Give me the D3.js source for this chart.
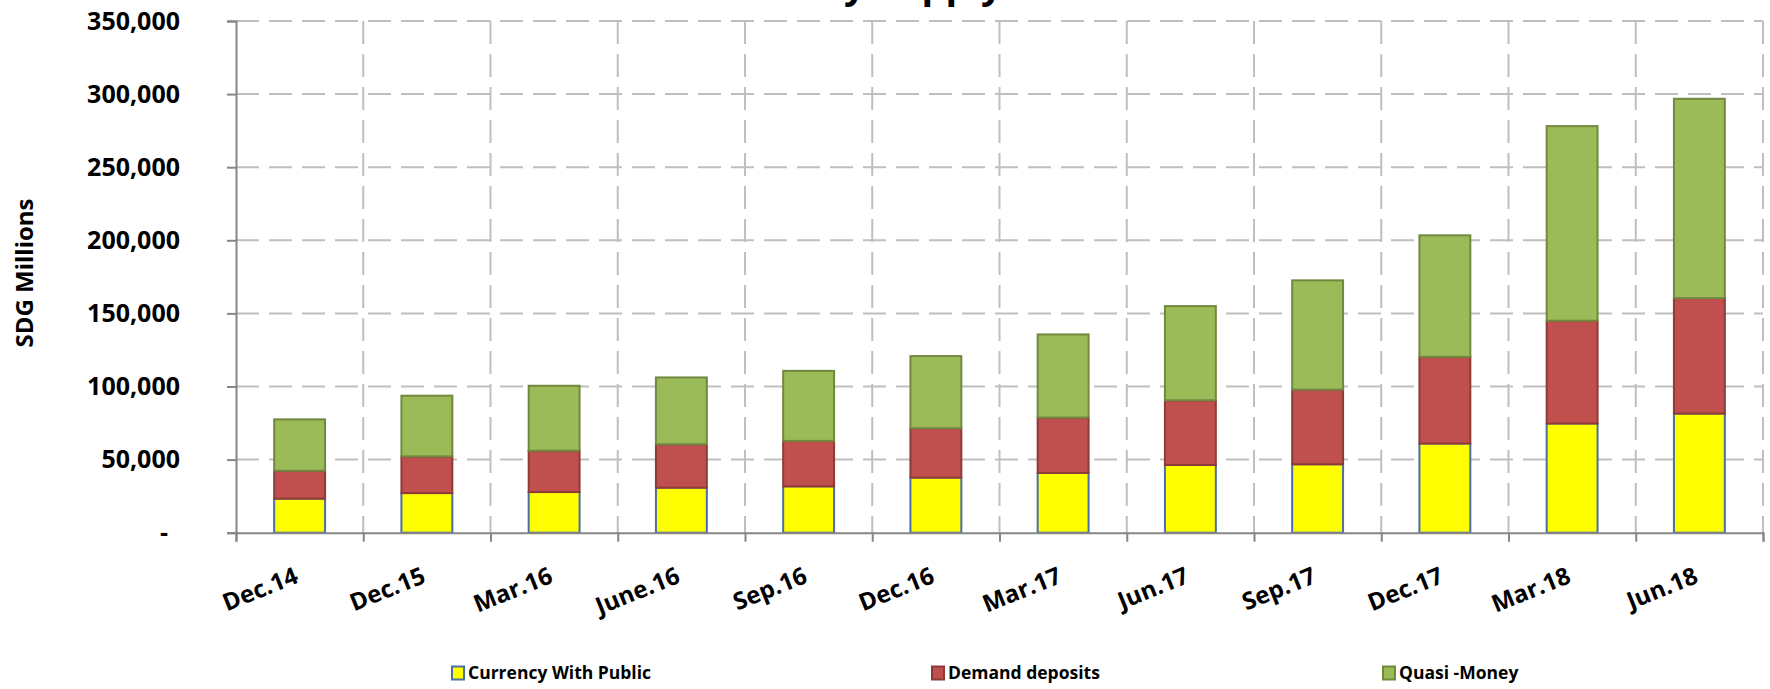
<!DOCTYPE html>
<html>
<head>
<meta charset="utf-8">
<script src="https://cdn.jsdelivr.net/npm/d3@7"></script>
<style>
body{margin:0;background:#fff;}
svg{display:block;font-family:"Open Sans",sans-serif;}
</style>
</head>
<body>
<svg id="svg"></svg>
<script>
var periods = ["Dec.14","Dec.15","Mar.16","June.16","Sep.16","Dec.16","Mar.17","Jun.17","Sep.17","Dec.17","Mar.18","Jun.18"];
// SDG millions
var currency = [23300,27100,27800,30800,31700,37700,40900,46300,46800,61000,74700,81500];
var demand   = [19100,25100,28300,29700,31100,33800,37900,44300,51100,59300,70300,79000];
var quasi    = [35100,41500,44400,45700,47900,49300,56800,64400,74700,83100,133100,136300];
var seriesNames = ["Currency With Public","Demand deposits","Quasi -Money"];
var yTicks = [0,50000,100000,150000,200000,250000,300000,350000];

var width = 1770, height = 689;
// note: "top" is taken by window.top, so plot edges get their own names
var plotLeft = 236, plotRight = 1763, plotTop = 21, plotBottom = 532.7;
var fills = ["#ffff00","#c0504d","#9bbb59"];
var strokes = ["#4a6fa5","#8e3a38","#71893f"];

var svg = d3.select("#svg").attr("width", width).attr("height", height);

var x = d3.scaleBand().domain(periods).range([plotLeft, plotRight]).paddingInner(0.6).paddingOuter(0.3);
var xEdge = d3.scaleLinear().domain([0, periods.length]).range([plotLeft, plotRight]);
var y = d3.scaleLinear().domain([0, 350000]).range([plotBottom, plotTop]);

// title, mostly cut off at the top like the original
svg.append("text").attr("x", 870).attr("y", -2).attr("text-anchor", "middle")
	.style("font-size", "38px").style("font-weight", "bold").text("Money Supply");

// grid
svg.append("g").selectAll("line").data(yTicks.slice(1)).enter().append("line")
	.attr("x1", plotLeft).attr("x2", plotRight).attr("y1", function(d){return y(d);}).attr("y2", function(d){return y(d);})
	.attr("stroke", "#bfbfbf").attr("stroke-width", 2).attr("stroke-dasharray", "23,10");
svg.append("g").selectAll("line").data(d3.range(1, periods.length + 1)).enter().append("line")
	.attr("x1", function(d){return xEdge(d);}).attr("x2", function(d){return xEdge(d);})
	.attr("y1", plotTop).attr("y2", plotBottom)
	.attr("stroke", "#bfbfbf").attr("stroke-width", 2).attr("stroke-dasharray", "23,10");

// stacked bars
var rows = periods.map(function(p, i){
	return {period: p, currency: currency[i], demand: demand[i], quasi: quasi[i]};
});
var stack = d3.stack().keys(["currency","demand","quasi"])(rows);

svg.append("g").selectAll("g").data(stack).enter().append("g")
	.attr("fill", function(d, i){return fills[i];})
	.attr("stroke", function(d, i){return strokes[i];})
	.attr("stroke-width", 2)
	.selectAll("rect").data(function(d){return d;}).enter().append("rect")
	.attr("x", function(d){return x(d.data.period);})
	.attr("width", x.bandwidth())
	.attr("y", function(d){return y(d[1]);})
	.attr("height", function(d){return y(d[0]) - y(d[1]);});

// y axis
var yAxis = svg.append("g").attr("transform", "translate(" + plotLeft + ",0)")
	.call(d3.axisLeft(y).tickValues(yTicks).tickSize(9).tickPadding(47)
		.tickFormat(function(d){return d === 0 ? "-" : d3.format(",")(d);}));
yAxis.select(".domain").attr("stroke", "#868686").attr("stroke-width", 2);
yAxis.selectAll(".tick line").attr("stroke", "#868686").attr("stroke-width", 2);
yAxis.selectAll(".tick text").attr("fill", "#000").style("font-size", "25px").style("font-weight", "bold")
	.style("font-family", "'Open Sans',sans-serif");
yAxis.selectAll(".tick text").filter(function(d){return d === 0;}).attr("dx", -12);

// x axis: ticks on category edges, labels rotated under the bars
var xAxis = svg.append("g").attr("transform", "translate(0," + plotBottom + ")")
	.call(d3.axisBottom(xEdge).tickValues(d3.range(0, periods.length + 1)).tickSize(9).tickFormat(""));
xAxis.select(".domain").attr("stroke", "#868686").attr("stroke-width", 2);
xAxis.selectAll(".tick line").attr("stroke", "#868686").attr("stroke-width", 2);

svg.append("g").selectAll("text").data(periods).enter().append("text")
	.attr("text-anchor", "end")
	.attr("transform", function(d){return "translate(" + (x(d) + x.bandwidth() / 2) + ",582) rotate(-22)";})
	.style("font-size", "24px").style("font-weight", "bold")
	.text(function(d){return d;});

// y title
svg.append("text").attr("transform", "translate(33,273) rotate(-90)").attr("text-anchor", "middle")
	.style("font-size", "24px").style("font-weight", "bold").text("SDG Millions");

// legend
var legendX = [452, 932, 1383];
var legend = svg.append("g").selectAll("g").data(seriesNames).enter().append("g")
	.attr("transform", function(d, i){return "translate(" + legendX[i] + ",673)";});
legend.append("rect").attr("x", 0).attr("y", -6.5).attr("width", 12).attr("height", 13)
	.attr("fill", function(d, i){return fills[i];})
	.attr("stroke", function(d, i){return strokes[i];}).attr("stroke-width", 2);
legend.append("text").attr("x", 16).attr("dy", "0.36em")
	.style("font-size", "17.5px").style("font-weight", "bold").text(function(d){return d;});
</script>
</body>
</html>
